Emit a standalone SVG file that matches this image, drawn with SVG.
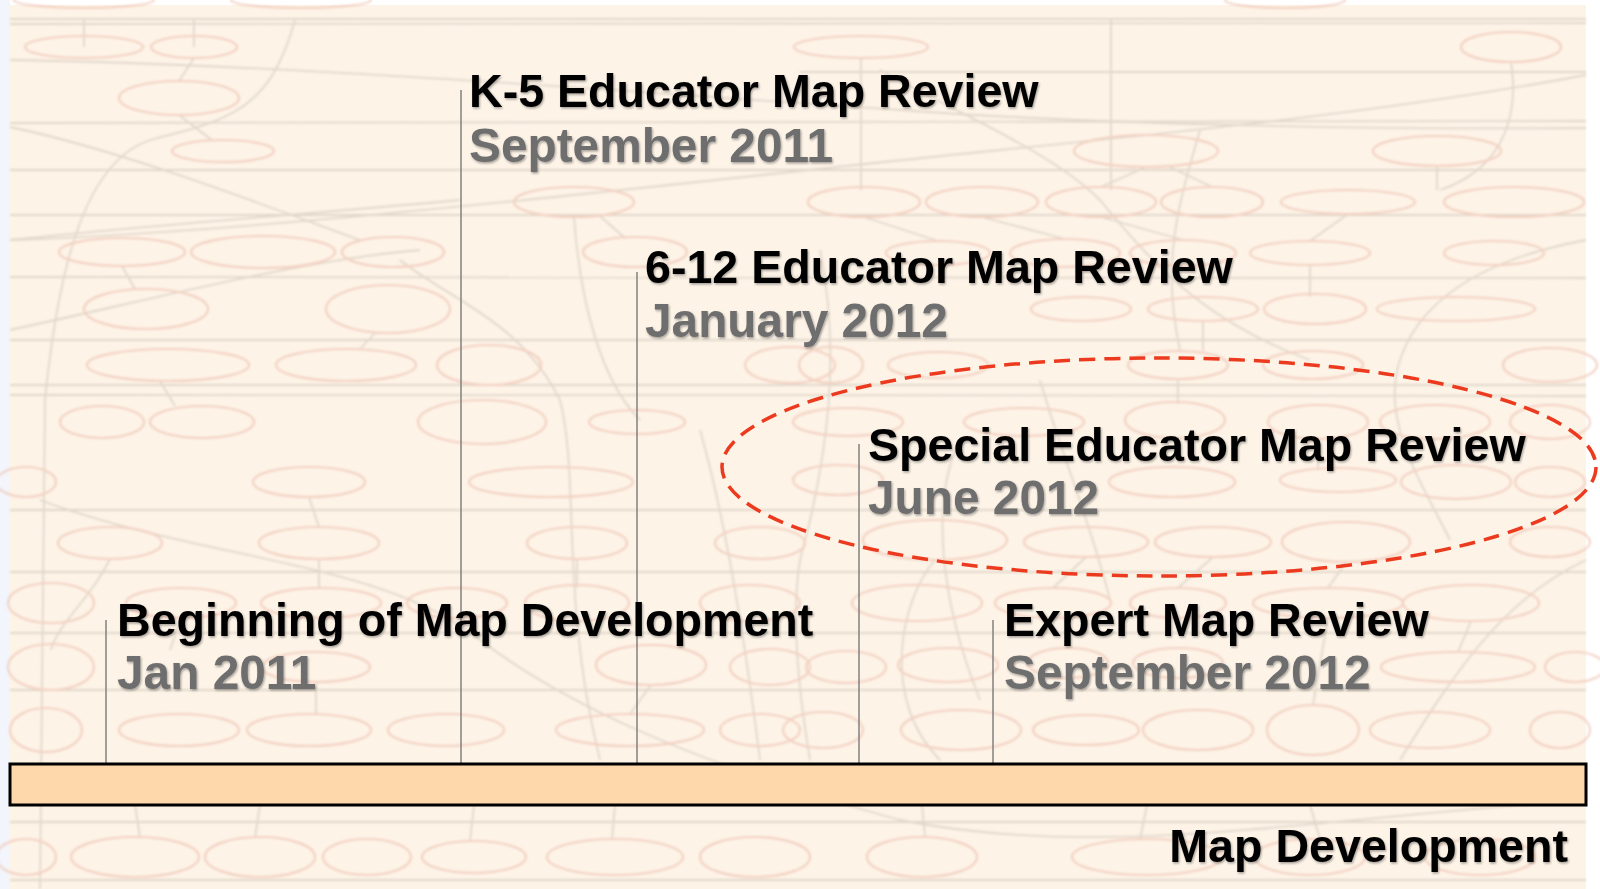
<svg xmlns="http://www.w3.org/2000/svg" width="1600" height="889" viewBox="0 0 1600 889">
<defs>
<filter id="soft" x="-5%" y="-5%" width="110%" height="110%"><feGaussianBlur stdDeviation="0.9"/></filter>
<filter id="shadow" x="-5%" y="-20%" width="110%" height="140%"><feDropShadow dx="1" dy="1.5" stdDeviation="1.2" flood-color="#000" flood-opacity="0.35"/></filter>
</defs>
<style>
.bn{fill:none;stroke:#efc4b3;stroke-width:2.2}
.be{fill:none;stroke:#d6ccbf;stroke-width:1.8}
.t{font-family:"Liberation Sans",Arial,Helvetica,sans-serif;font-weight:bold}
.h{fill:#000;font-size:46.6px}
.d{fill:#6e6e6e;font-size:47.8px}
.tick{stroke:#808080;stroke-width:1.5}
</style>
<rect x="0" y="0" width="1600" height="889" fill="#ffffff"/>
<rect x="0" y="0" width="10" height="889" fill="#f2f5fb"/>
<g id="background">
<rect x="10" y="5" width="1576" height="884" fill="#fdf3e7"/>
<g filter="url(#soft)" opacity="0.7">
<g class="be">
<path d="M10 19 H1586"/><path d="M10 24 C400 22 900 27 1586 23"/>
<path d="M10 123 C400 122 900 124 1586 121"/>
<path d="M800 72 H1586"/><path d="M10 60 C300 65 600 90 900 110 C1100 125 1400 130 1586 128"/>
<path d="M10 170 C500 168 1000 172 1586 170"/>
<path d="M10 240 C300 230 700 180 1000 150 C1200 130 1400 110 1586 75"/>
<path d="M10 215 C400 214 900 218 1586 215"/>
<path d="M10 277 C400 276 900 279 1586 278"/>
<path d="M10 340 C400 339 900 341 1586 340"/>
<path d="M10 385 C400 384 900 387 1586 385"/>
<path d="M10 395 C500 396 1100 394 1586 396"/>
<path d="M10 510 C500 509 1000 512 1586 510"/>
<path d="M10 572 C500 571 1000 574 1586 572"/>
<path d="M10 633 C500 632 1000 635 1586 633"/>
<path d="M10 690 C500 689 1000 692 1586 690"/>
<path d="M10 822 C500 821 1000 824 1586 822"/>
<path d="M10 880 C500 878 1000 882 1586 880"/>
<path d="M295 20 C270 110 230 120 150 140 C90 160 60 250 45 400 L40 889"/>
<path d="M10 127 C120 150 250 200 360 240"/>
<path d="M10 240 C150 225 300 215 460 200"/>
<path d="M10 330 C150 300 300 260 420 250"/>
<path d="M84 47 V20"/><path d="M194 47 V20"/><path d="M194 58 L179 81"/><path d="M179 115 L213 141"/>
<path d="M122 266 L135 289"/><path d="M160 381 L175 406"/><path d="M376 332 L360 349"/>
<path d="M400 260 C450 300 520 320 560 400 C580 480 560 600 600 760"/>
<path d="M574 217 C580 300 600 380 640 420"/><path d="M600 216 L625 238"/>
<path d="M861 58 V190"/><path d="M1111 20 V190"/><path d="M1511 62 C1520 120 1500 170 1440 190"/>
<path d="M880 70 C950 110 1050 150 1100 200 C1150 260 1200 320 1310 360"/>
<path d="M1146 167 L1101 187"/><path d="M1170 167 L1212 187"/><path d="M1437 166 V190"/>
<path d="M864 217 L938 241"/><path d="M982 217 L1065 239"/><path d="M1101 217 L1183 240"/><path d="M1348 214 L1310 241"/>
<path d="M1310 265 V297"/><path d="M1203 321 V351"/><path d="M1178 379 V404"/><path d="M1318 439 V470"/>
<path d="M1586 240 C1480 260 1420 300 1400 360 C1380 420 1420 480 1450 540"/>
<path d="M1200 130 C1180 200 1160 260 1180 350"/>
<path d="M700 430 C720 500 740 600 760 760"/><path d="M820 250 C840 350 830 450 800 560 C790 620 800 700 810 760"/>
<path d="M960 440 C930 500 940 600 980 700"/><path d="M1040 380 C1060 450 1090 520 1110 600"/>
<path d="M309 497 L319 527"/><path d="M319 559 V588"/><path d="M181 618 L170 650"/><path d="M577 559 V588"/>
<path d="M110 559 C90 600 60 620 51 650"/><path d="M316 682 V714"/><path d="M651 685 L630 714"/>
<path d="M135 805 L140 837"/><path d="M260 805 L255 837"/><path d="M474 805 L470 841"/><path d="M615 805 L612 839"/>
<path d="M922 805 L925 837"/><path d="M1147 805 L1140 839"/><path d="M1310 805 L1320 839"/>
<path d="M40 500 C200 560 380 560 480 640 C560 700 680 760 900 820 C1100 860 1300 820 1586 800"/>
<path d="M1586 560 C1500 600 1450 680 1400 760"/>
<path d="M935 560 C900 600 880 700 940 760"/><path d="M1086 557 L1053 588"/><path d="M1213 557 L1178 588"/>
<path d="M1346 562 L1328 588"/><path d="M1471 621 L1458 652"/><path d="M1328 618 L1313 705"/>
</g>
<g class="bn">
<ellipse cx="84" cy="47" rx="59" ry="11"/><ellipse cx="194" cy="47" rx="43" ry="11"/>
<ellipse cx="179" cy="98" rx="60" ry="17"/><ellipse cx="223" cy="151" rx="51" ry="11"/>
<ellipse cx="574" cy="202" rx="60" ry="15"/><ellipse cx="122" cy="252" rx="63" ry="14"/>
<ellipse cx="263" cy="252" rx="72" ry="16"/><ellipse cx="393" cy="252" rx="51" ry="15"/>
<ellipse cx="635" cy="252" rx="52" ry="15"/><ellipse cx="146" cy="309" rx="62" ry="20"/>
<ellipse cx="388" cy="309" rx="62" ry="24"/><ellipse cx="168" cy="365" rx="81" ry="16"/>
<ellipse cx="346" cy="365" rx="70" ry="16"/><ellipse cx="489" cy="365" rx="52" ry="20"/>
<ellipse cx="790" cy="365" rx="45" ry="18"/><ellipse cx="102" cy="422" rx="42" ry="16"/>
<ellipse cx="202" cy="422" rx="52" ry="16"/><ellipse cx="482" cy="422" rx="64" ry="22"/>
<ellipse cx="637" cy="422" rx="48" ry="12"/><ellipse cx="861" cy="47" rx="67" ry="11"/>
<ellipse cx="1511" cy="47" rx="50" ry="15"/><ellipse cx="1146" cy="151" rx="72" ry="16"/>
<ellipse cx="1437" cy="151" rx="64" ry="15"/><ellipse cx="864" cy="202" rx="56" ry="15"/>
<ellipse cx="982" cy="202" rx="56" ry="15"/><ellipse cx="1101" cy="202" rx="55" ry="15"/>
<ellipse cx="1212" cy="202" rx="51" ry="15"/><ellipse cx="1348" cy="202" rx="67" ry="12"/>
<ellipse cx="1514" cy="202" rx="70" ry="15"/><ellipse cx="938" cy="253" rx="52" ry="12"/>
<ellipse cx="1065" cy="253" rx="55" ry="14"/><ellipse cx="1183" cy="253" rx="53" ry="13"/>
<ellipse cx="1310" cy="253" rx="60" ry="12"/><ellipse cx="1494" cy="253" rx="50" ry="12"/>
<ellipse cx="1081" cy="309" rx="50" ry="12"/><ellipse cx="1203" cy="309" rx="55" ry="12"/>
<ellipse cx="1315" cy="309" rx="51" ry="15"/><ellipse cx="1456" cy="309" rx="79" ry="12"/>
<ellipse cx="831" cy="365" rx="32" ry="18"/><ellipse cx="938" cy="365" rx="50" ry="13"/>
<ellipse cx="1178" cy="365" rx="50" ry="14"/><ellipse cx="1313" cy="365" rx="50" ry="14"/>
<ellipse cx="1550" cy="365" rx="47" ry="17"/><ellipse cx="848" cy="422" rx="55" ry="14"/>
<ellipse cx="1024" cy="422" rx="60" ry="14"/><ellipse cx="1175" cy="420" rx="50" ry="18"/>
<ellipse cx="1318" cy="422" rx="50" ry="17"/><ellipse cx="1435" cy="422" rx="55" ry="17"/>
<ellipse cx="1550" cy="422" rx="40" ry="17"/><ellipse cx="309" cy="482" rx="56" ry="15"/>
<ellipse cx="551" cy="482" rx="82" ry="15"/><ellipse cx="26" cy="482" rx="30" ry="15"/>
<ellipse cx="110" cy="543" rx="52" ry="16"/><ellipse cx="319" cy="543" rx="60" ry="16"/>
<ellipse cx="577" cy="543" rx="50" ry="16"/><ellipse cx="760" cy="543" rx="45" ry="16"/>
<ellipse cx="51" cy="603" rx="43" ry="20"/><ellipse cx="181" cy="603" rx="55" ry="15"/>
<ellipse cx="321" cy="603" rx="60" ry="15"/><ellipse cx="457" cy="603" rx="50" ry="15"/>
<ellipse cx="577" cy="603" rx="52" ry="18"/><ellipse cx="750" cy="603" rx="50" ry="18"/>
<ellipse cx="51" cy="667" rx="43" ry="23"/><ellipse cx="316" cy="667" rx="54" ry="15"/>
<ellipse cx="651" cy="665" rx="55" ry="20"/><ellipse cx="770" cy="667" rx="40" ry="18"/>
<ellipse cx="46" cy="730" rx="36" ry="22"/><ellipse cx="179" cy="730" rx="60" ry="16"/>
<ellipse cx="309" cy="730" rx="62" ry="16"/><ellipse cx="446" cy="730" rx="58" ry="16"/>
<ellipse cx="630" cy="730" rx="74" ry="16"/><ellipse cx="760" cy="730" rx="40" ry="16"/>
<ellipse cx="135" cy="857" rx="64" ry="20"/><ellipse cx="260" cy="857" rx="55" ry="20"/>
<ellipse cx="367" cy="857" rx="44" ry="18"/><ellipse cx="474" cy="857" rx="52" ry="16"/>
<ellipse cx="615" cy="857" rx="68" ry="18"/><ellipse cx="755" cy="857" rx="55" ry="20"/>
<ellipse cx="26" cy="857" rx="30" ry="18"/><ellipse cx="838" cy="480" rx="45" ry="15"/>
<ellipse cx="1172" cy="482" rx="63" ry="15"/><ellipse cx="1338" cy="480" rx="58" ry="12"/>
<ellipse cx="1456" cy="482" rx="55" ry="17"/><ellipse cx="1550" cy="482" rx="35" ry="15"/>
<ellipse cx="935" cy="540" rx="72" ry="20"/><ellipse cx="1086" cy="542" rx="62" ry="15"/>
<ellipse cx="1213" cy="542" rx="58" ry="15"/><ellipse cx="1346" cy="542" rx="64" ry="20"/>
<ellipse cx="1550" cy="542" rx="40" ry="15"/><ellipse cx="917" cy="603" rx="65" ry="18"/>
<ellipse cx="1053" cy="603" rx="58" ry="15"/><ellipse cx="1178" cy="603" rx="48" ry="15"/>
<ellipse cx="1328" cy="603" rx="75" ry="15"/><ellipse cx="1471" cy="603" rx="68" ry="18"/>
<ellipse cx="846" cy="667" rx="40" ry="16"/><ellipse cx="948" cy="665" rx="50" ry="17"/>
<ellipse cx="1068" cy="663" rx="40" ry="15"/><ellipse cx="1178" cy="663" rx="45" ry="15"/>
<ellipse cx="1458" cy="667" rx="77" ry="15"/><ellipse cx="1575" cy="667" rx="30" ry="15"/>
<ellipse cx="823" cy="730" rx="40" ry="18"/><ellipse cx="961" cy="730" rx="60" ry="20"/>
<ellipse cx="1086" cy="730" rx="53" ry="15"/><ellipse cx="1198" cy="730" rx="55" ry="20"/>
<ellipse cx="1313" cy="730" rx="46" ry="25"/><ellipse cx="1430" cy="730" rx="60" ry="18"/>
<ellipse cx="1560" cy="730" rx="30" ry="18"/><ellipse cx="922" cy="857" rx="55" ry="20"/>
<ellipse cx="1147" cy="857" rx="75" ry="18"/><ellipse cx="1310" cy="857" rx="55" ry="18"/>
<ellipse cx="1480" cy="857" rx="55" ry="18"/>
<ellipse cx="84" cy="0" rx="70" ry="8"/><ellipse cx="301" cy="0" rx="70" ry="8"/><ellipse cx="1285" cy="0" rx="60" ry="8"/>
</g>
</g>
</g>
<g id="connectors">
<line class="tick" x1="106" y1="620" x2="106" y2="763"/>
<line class="tick" x1="461" y1="90" x2="461" y2="763"/>
<line class="tick" x1="637" y1="272" x2="637" y2="763"/>
<line class="tick" x1="859" y1="444" x2="859" y2="763"/>
<line class="tick" x1="993" y1="620" x2="993" y2="763"/>
</g>
<g id="timeline-bar">
<rect x="10" y="764" width="1576" height="41" fill="#fed7ab" stroke="#000" stroke-width="3"/>
</g>
<g filter="url(#shadow)">
<g id="k5-review">
<text class="t h" x="469" y="107">K-5 Educator Map Review</text>
<text class="t d" x="469" y="162">September 2011</text>
</g>
<g id="grade612-review">
<text class="t h" x="645" y="283">6-12 Educator Map Review</text>
<text class="t d" x="645" y="337">January 2012</text>
</g>
<g id="special-review">
<text class="t h" x="868" y="461">Special Educator Map Review</text>
<text class="t d" x="868" y="514">June 2012</text>
</g>
<g id="beginning">
<text class="t h" x="117" y="636">Beginning of Map Development</text>
<text class="t d" x="117" y="689">Jan 2011</text>
</g>
<g id="expert-review">
<text class="t h" x="1004" y="636">Expert Map Review</text>
<text class="t d" x="1004" y="689">September 2012</text>
</g>
<g id="map-development-label">
<text class="t h" x="1568" y="862" text-anchor="end">Map Development</text>
</g>
</g>
<g id="highlight">
<ellipse cx="1159" cy="467" rx="437" ry="109" fill="none" stroke="#ec3a1e" stroke-width="3.5" stroke-dasharray="16 9"/>
</g>
</svg>
